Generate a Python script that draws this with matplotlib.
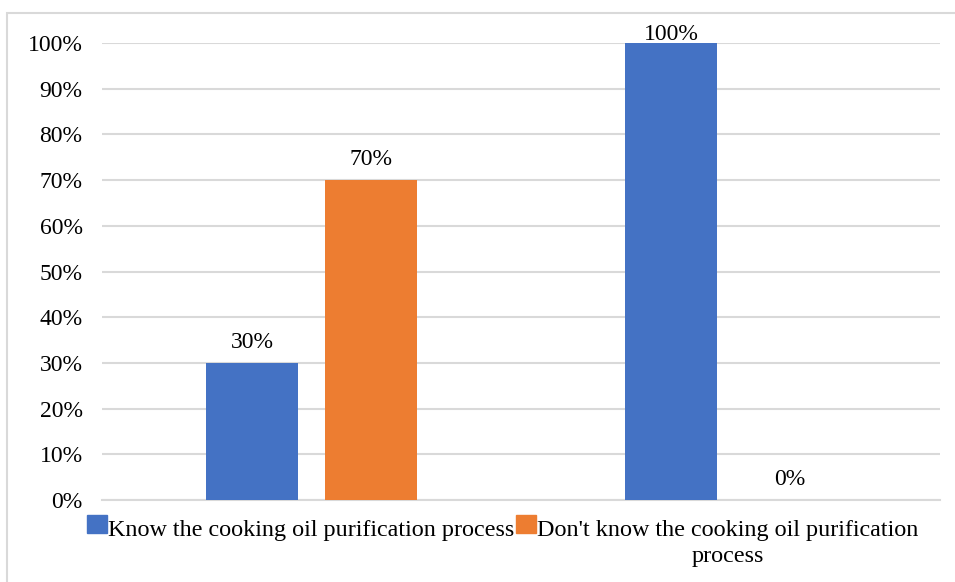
import numpy as np
import matplotlib.pyplot as plt
from matplotlib.patches import Rectangle

# Data
groups = [0, 1]
know = [0.30, 1.00]
dont_know = [0.70, 0.00]
series_labels = ['Know the cooking oil purification process',
                 "Don't know the cooking oil purification\nprocess"]
colors = ['#4472C4', '#ED7D31']

plt.rcParams['font.family'] = ['Liberation Serif', 'DejaVu Serif']
FS = 17

fig = plt.figure(figsize=(9.55, 5.82), dpi=100)
W, H = 955, 582
# light chart border
fig.patches.append(Rectangle((7 / W, -0.01), 1.0, 1 - 13 / H + 0.01,
                             transform=fig.transFigure, fill=False,
                             edgecolor='#d9d9d9', linewidth=1.5))

ax = fig.add_axes([102 / W, 1 - 500 / H, (940 - 102) / W, (500 - 43) / H])

x = np.array(groups, dtype=float)
width = 0.22
offset = 0.142
b1 = ax.bar(x - offset, know, width, color=colors[0], zorder=3)
b2 = ax.bar(x + offset, dont_know, width, color=colors[1], zorder=3)

# labels sit above the bar, but are kept from running off the top (like Excel)
for bars in (b1, b2):
    for rect in bars:
        h = rect.get_height()
        ax.text(rect.get_x() + rect.get_width() / 2, min(h + 0.032, 1.006), f'{h:.0%}',
                ha='center', va='baseline', fontsize=FS)

ax.set_ylim(0, 1)
ax.set_xlim(-0.5, 1.5)
ax.set_yticks(np.arange(0, 1.01, 0.1))
ax.set_yticklabels([f'{v:.0%}' for v in np.arange(0, 1.01, 0.1)], fontsize=FS)
ax.set_xticks([])
ax.grid(axis='y', color='#d9d9d9', linewidth=1.5, zorder=0)
ax.tick_params(axis='y', length=0, pad=14)
for s in ax.spines.values():
    s.set_visible(False)
ax.spines['bottom'].set_visible(True)
ax.spines['bottom'].set_color('#d9d9d9')
ax.spines['bottom'].set_linewidth(1.5)

# legend drawn by hand so the single-line entry lines up with the first line
handle_x = [87, 516]
for hx, lab, col in zip(handle_x, series_labels, colors):
    fig.patches.append(Rectangle((hx / W, 1 - 533 / H), 20 / W, 18 / H,
                                 transform=fig.transFigure, color=col))
    fig.text((hx + 21) / W, 1 - 520 / H, lab, ha='left', va='top',
             multialignment='center', fontsize=17.35, linespacing=1.31)

fig.savefig('out.png', dpi=100)
